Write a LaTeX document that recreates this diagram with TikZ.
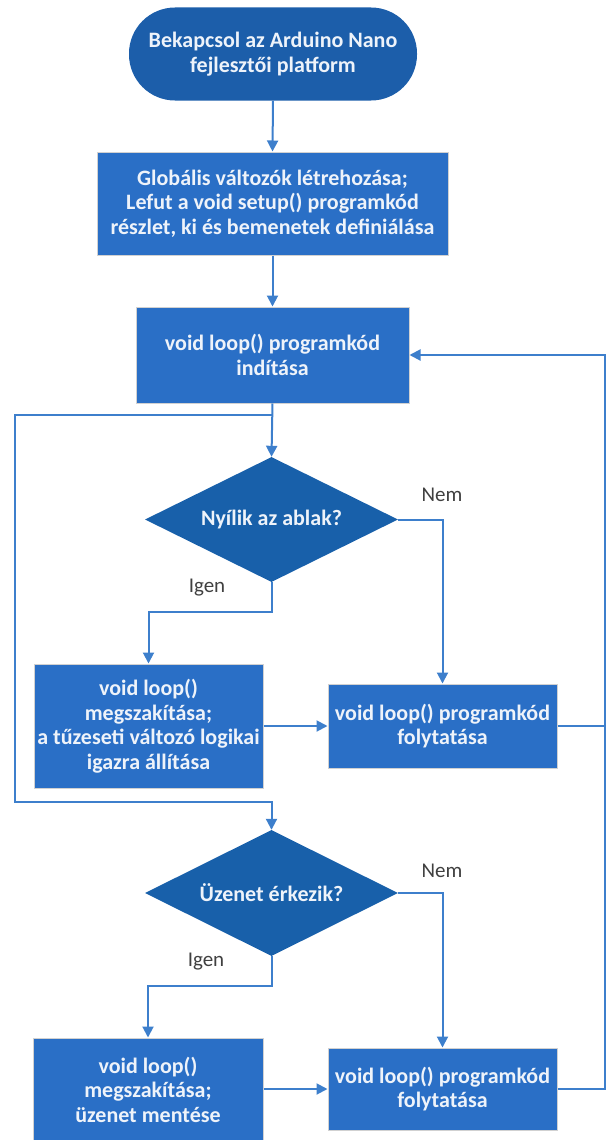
\documentclass[tikz,border=0pt]{standalone}
\usepackage{fontspec}
\setmainfont{Carlito}
\usetikzlibrary{shapes.geometric,arrows.meta}
\definecolor{termfill}{HTML}{1C5EAA}
\definecolor{boxfill}{HTML}{2A6FC6}
\definecolor{decfill}{HTML}{1860AA}
\definecolor{linecol}{HTML}{3D7FCC}
\definecolor{txtcol}{HTML}{EEF3FA}
\definecolor{lblcol}{HTML}{404040}
\tikzset{
  base/.style={text=txtcol, font=\fontsize{22}{24.5}\selectfont\bfseries, align=center, inner sep=0pt},
  termbox/.style={base, rectangle, fill=termfill, rounded corners=46pt},
  procbox/.style={base, rectangle, fill=boxfill, draw=black!18, line width=1pt},
  decbox/.style={base, diamond, aspect=2, fill=decfill, inner sep=0pt},
  conn/.style={draw=linecol, line width=2pt},
  arr/.style={conn, -{Triangle[width=11pt,length=11pt]}},
  lbl/.style={text=lblcol, font=\fontsize{21}{24}\selectfont, inner sep=0pt}
}
\begin{document}
\begin{tikzpicture}[x=1pt,y=-1pt]
\clip (0,0) rectangle (606,1140);
\node[termbox, minimum width=288pt, minimum height=93pt] (term) at (273,54) {Bekapcsol az Arduino Nano\\fejlesztői platform};
\node[procbox, minimum width=351pt, minimum height=103pt] (glob) at (272.5,203.5) {Globális változók létrehozása;\\Lefut a void setup() programkód\\részlet, ki és bemenetek definiálása};
\node[procbox, minimum width=273pt, minimum height=96pt] (loop) at (272.5,355) {void loop() programkód\\indítása};
\node[decbox, minimum width=253pt, minimum height=125pt] (d1) at (271.5,519.5) {Nyílik az ablak?};
\node[procbox, minimum width=229pt, minimum height=124pt] (int1) at (148.5,726) {void loop()\\megszakítása;\\a tűzeseti változó logikai\\igazra állítása};
\node[procbox, minimum width=229pt, minimum height=84pt] (cont1) at (442.5,726) {void loop() programkód\\folytatása};
\node[decbox, minimum width=253pt, minimum height=126pt] (d2) at (271.5,893) {Üzenet érkezik?};
\node[procbox, minimum width=230pt, minimum height=103pt] (int2) at (148,1089.5) {void loop()\\megszakítása;\\üzenet mentése};
\node[procbox, minimum width=229pt, minimum height=82pt] (cont2) at (442.5,1089) {void loop() programkód\\folytatása};
\node[lbl] (nem1) at (442,495) {Nem};
\node[lbl] (igen1) at (207,588) {Igen};
\node[lbl] (nem2) at (442,871) {Nem};
\node[lbl] (igen2) at (206,962) {Igen};
\coordinate (j1) at (272.5,415);
\coordinate (L1) at (15,415);
\coordinate (L2) at (15,802);
\coordinate (Rx) at (605,0);
\draw[arr] (term.south) -- (glob.north);
\draw[arr] (glob.south) -- (loop.north);
\draw[arr] (loop.south) -- (d1.north);
\draw[arr] (j1) -- (L1) -- (L2) -| (d2.north);
\draw[arr] (d1.east) -| (cont1.north);
\draw[arr] (d1.south) -- ++(0,30) -| (int1.north);
\draw[arr] (int1.east |- cont1.west) -- (cont1.west);
\draw[arr] (cont1.east) -| (Rx |- loop.east) -- (loop.east);
\draw[arr] (d2.east) -| (cont2.north);
\draw[arr] (d2.south) -- ++(0,30) -| (int2.north);
\draw[arr] (int2.east |- cont2.west) -- (cont2.west);
\draw[conn] (cont2.east) -| (Rx |- cont1.east);
\end{tikzpicture}
\end{document}
